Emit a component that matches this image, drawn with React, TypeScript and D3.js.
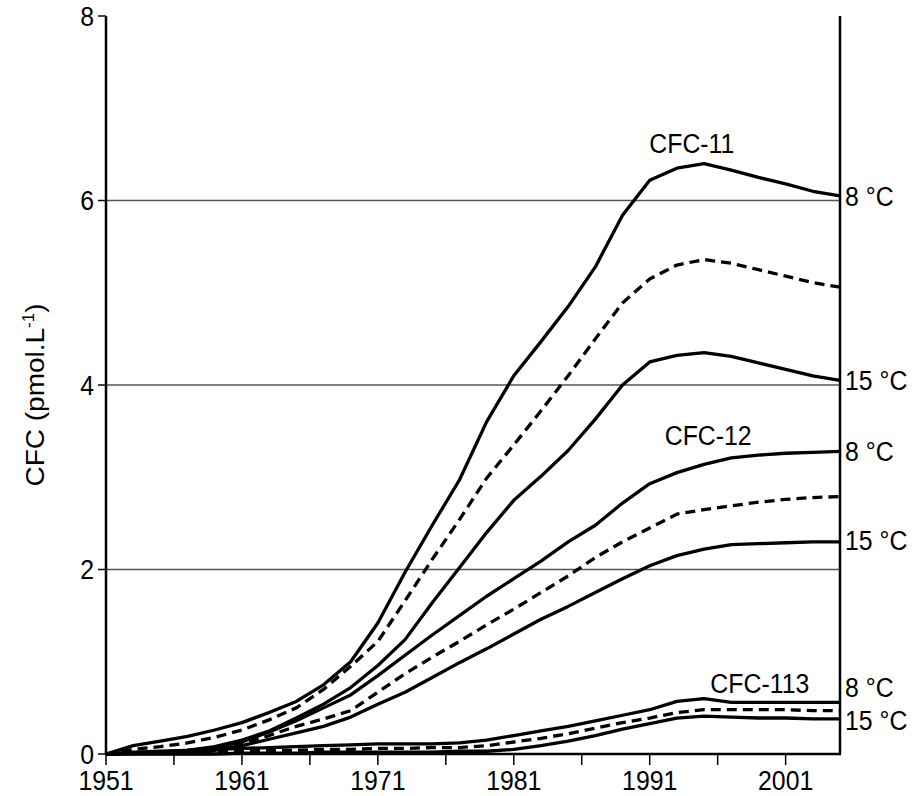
import React from "react";
import * as d3 from "d3";

// sampling years shared by every series
const years = [
  1951, 1953, 1955, 1957, 1959, 1961, 1963, 1965, 1967, 1969, 1971, 1973, 1975, 1977,
  1979, 1981, 1983, 1985, 1987, 1989, 1991, 1993, 1995, 1997, 1999, 2001, 2003, 2005,
];

// CFC-11
const cfc11Warm = [0, 0.09, 0.14, 0.19, 0.26, 0.34, 0.45, 0.57, 0.75, 1.0, 1.42, 1.97, 2.48, 2.97, 3.6, 4.1, 4.47, 4.85, 5.28, 5.84, 6.22, 6.35, 6.4, 6.33, 6.25, 6.18, 6.1, 6.05];
const cfc11Mid = [0, 0.05, 0.08, 0.12, 0.18, 0.26, 0.37, 0.5, 0.7, 0.95, 1.22, 1.66, 2.11, 2.54, 2.99, 3.35, 3.72, 4.1, 4.5, 4.89, 5.15, 5.3, 5.36, 5.32, 5.25, 5.18, 5.11, 5.06];
const cfc11Cold = [0, 0.01, 0.02, 0.04, 0.08, 0.15, 0.25, 0.39, 0.54, 0.72, 0.96, 1.24, 1.64, 2.02, 2.4, 2.75, 3.01, 3.29, 3.63, 4.0, 4.25, 4.32, 4.35, 4.31, 4.24, 4.17, 4.1, 4.05];

// CFC-12
const cfc12Warm = [0, 0.01, 0.02, 0.04, 0.07, 0.13, 0.24, 0.36, 0.5, 0.64, 0.85, 1.07, 1.29, 1.5, 1.71, 1.9, 2.09, 2.3, 2.48, 2.72, 2.93, 3.05, 3.14, 3.21, 3.24, 3.26, 3.27, 3.28];
const cfc12Mid = [0, 0.01, 0.02, 0.03, 0.06, 0.11, 0.2, 0.3, 0.38, 0.47, 0.67, 0.87, 1.05, 1.22, 1.4, 1.57, 1.75, 1.93, 2.13, 2.3, 2.45, 2.6, 2.65, 2.69, 2.73, 2.76, 2.78, 2.79];
const cfc12Cold = [0, 0.005, 0.01, 0.02, 0.04, 0.09, 0.16, 0.23, 0.3, 0.4, 0.54, 0.67, 0.83, 0.99, 1.14, 1.3, 1.46, 1.6, 1.75, 1.9, 2.04, 2.15, 2.22, 2.27, 2.28, 2.29, 2.3, 2.3];

// CFC-113
const cfc113Warm = [0, 0.02, 0.03, 0.04, 0.05, 0.06, 0.07, 0.08, 0.09, 0.1, 0.11, 0.11, 0.11, 0.12, 0.15, 0.2, 0.25, 0.3, 0.36, 0.42, 0.48, 0.57, 0.6, 0.56, 0.56, 0.56, 0.56, 0.56];
const cfc113Mid = [0, 0.01, 0.01, 0.02, 0.02, 0.03, 0.04, 0.04, 0.05, 0.05, 0.06, 0.06, 0.07, 0.07, 0.09, 0.13, 0.17, 0.22, 0.28, 0.34, 0.39, 0.45, 0.48, 0.48, 0.48, 0.48, 0.47, 0.47];
const cfc113Cold = [0, 0, 0, 0, 0, 0.01, 0.01, 0.01, 0.02, 0.02, 0.02, 0.02, 0.02, 0.03, 0.03, 0.05, 0.09, 0.14, 0.2, 0.27, 0.33, 0.39, 0.41, 0.4, 0.39, 0.39, 0.38, 0.38];

const series = [
  { values: cfc11Warm, dashed: false },
  { values: cfc11Mid, dashed: true },
  { values: cfc11Cold, dashed: false },
  { values: cfc12Warm, dashed: false },
  { values: cfc12Mid, dashed: true },
  { values: cfc12Cold, dashed: false },
  { values: cfc113Warm, dashed: false },
  { values: cfc113Mid, dashed: true },
  { values: cfc113Cold, dashed: false },
];

const yTicks = [0, 2, 4, 6, 8];
const gridValues = [2, 4, 6];
const xLabelYears = [1951, 1961, 1971, 1981, 1991, 2001];
const xMinorYears = [1956, 1966, 1976, 1986, 1996];

// gas names placed at (year, value)
const gasLabels = [
  { text: "CFC-11", year: 1994.1, value: 6.62 },
  { text: "CFC-12", year: 1995.3, value: 3.46 },
  { text: "CFC-113", year: 1999.1, value: 0.77 },
];

// temperature labels on the right edge
const tempLabels = [
  { text: "8 °C", value: 6.05 },
  { text: "15 °C", value: 4.05 },
  { text: "8 °C", value: 3.28 },
  { text: "15 °C", value: 2.32 },
  { text: "8 °C", value: 0.72 },
  { text: "15 °C", value: 0.37 },
];

// the reference lettering is a bit narrow, so squeeze it horizontally
const FS = 27;
const SQ = 0.92;

function T({ x, y, anchor = "start", dy = "0", children }: any) {
  return (
    <text
      transform={`translate(${x},${y}) scale(${SQ},1)`}
      dy={dy}
      textAnchor={anchor}
      fontSize={FS}
    >
      {children}
    </text>
  );
}

export default function App() {
  const width = 917;
  const height = 796;
  const left = 106;
  const right = 840;
  const top = 16;
  const bottom = 754;

  const x = d3.scaleLinear().domain([1951, 2005]).range([left, right]);
  const y = d3.scaleLinear().domain([0, 8]).range([bottom, top]);

  const line = d3
    .line<number>()
    .x((_, i) => x(years[i]))
    .y((d) => y(d))
    .curve(d3.curveLinear);

  const font = "'Liberation Sans', Arial, sans-serif";

  return (
    <svg
      width={width}
      height={height}
      style={{ position: "absolute", left: 0, top: 0, background: "#fff" }}
      fontFamily={font}
    >
      {/* grid */}
      {gridValues.map((v) => (
        <line key={v} x1={left} x2={right} y1={y(v)} y2={y(v)} stroke="#555" strokeWidth={1.4} />
      ))}

      {/* curves */}
      {series.map((s, i) => (
        <path
          key={i}
          d={line(s.values) ?? ""}
          fill="none"
          stroke="#000"
          strokeWidth={3.3}
          strokeLinejoin="round"
          strokeDasharray={s.dashed ? "10 6" : undefined}
        />
      ))}

      {/* frame */}
      <line x1={left} x2={left} y1={top} y2={bottom} stroke="#000" strokeWidth={2.5} />
      <line x1={right} x2={right} y1={top} y2={bottom} stroke="#000" strokeWidth={2.5} />
      <line x1={left - 1} x2={right + 1} y1={bottom} y2={bottom} stroke="#000" strokeWidth={2.5} />

      {/* y axis */}
      {yTicks.map((v) => (
        <g key={v}>
          <line x1={left - 8} x2={left} y1={y(v)} y2={y(v)} stroke="#000" strokeWidth={1.5} />
          <T x={left - 12} y={y(v)} dy="0.36em" anchor="end">
            {v}
          </T>
        </g>
      ))}
      <text
        transform={`translate(44,${(top + bottom) / 2 + 10}) rotate(-90) scale(1,${SQ})`}
        textAnchor="middle"
        fontSize={28}
      >
        CFC (pmol.L
        <tspan fontSize={17} dy={-11}>
          -1
        </tspan>
        <tspan dy={11}>)</tspan>
      </text>

      {/* x axis */}
      {[...xLabelYears, ...xMinorYears].map((yr) => (
        <line key={yr} x1={x(yr)} x2={x(yr)} y1={bottom} y2={bottom + 11} stroke="#000" strokeWidth={1.5} />
      ))}
      {xLabelYears.map((yr) => (
        <T key={yr} x={x(yr)} y={bottom + 36} anchor="middle">
          {yr}
        </T>
      ))}

      {/* gas labels */}
      {gasLabels.map((g) => (
        <T key={g.text} x={x(g.year)} y={y(g.value)} dy="0.36em" anchor="middle">
          {g.text}
        </T>
      ))}

      {/* temperature labels */}
      {tempLabels.map((t, i) => (
        <T key={i} x={right + 5} y={y(t.value)} dy="0.36em">
          {t.text}
        </T>
      ))}
    </svg>
  );
}
